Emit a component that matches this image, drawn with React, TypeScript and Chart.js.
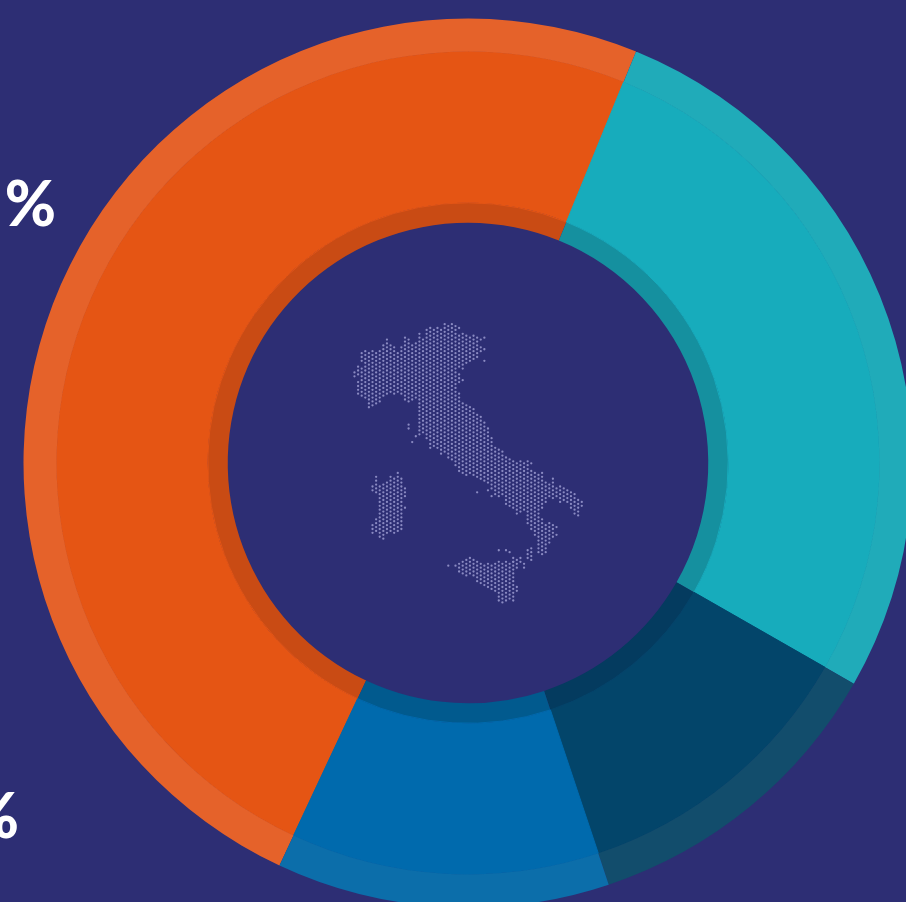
import React, { useEffect, useRef } from "react";
import { Chart, registerables } from "chart.js";

Chart.register(...registerables);

const categories = ["Segment A", "Segment B", "Segment C", "Segment D"];
const shareValues = [49.2, 27.1, 11.6, 12.1];
const orangeToBlueStartDeg = 205.1;

const outerBandColors = ["#e5622a", "#20abb9", "#124d6c", "#0c6eaa"];
const mainBandColors = ["#e55514", "#17acbc", "#03456a", "#006aad"];
const innerBandColors = ["#c94b14", "#15909f", "#043b5f", "#015a8e"];

const labelTop = "5 %";
const labelBottom = "%";

// Dot map of Italy: [column index, first y, last y]
const mainland: number[][] = [
  [0, 370, 375], [1, 367, 373], [1, 382, 393], [2, 352, 360], [2, 367, 397], [3, 350, 398],
  [4, 352, 407], [5, 350, 405], [6, 352, 403], [7, 350, 402], [8, 345, 397], [9, 339, 393],
  [10, 345, 393], [11, 347, 392], [12, 352, 392], [13, 347, 393], [14, 338, 398], [15, 339, 402],
  [16, 345, 400], [17, 342, 397], [18, 333, 432], [19, 337, 433], [20, 330, 438], [21, 328, 442],
  [22, 330, 445], [23, 327, 448], [24, 327, 452], [25, 324, 453], [26, 325, 458], [27, 323, 460],
  [28, 323, 465], [29, 325, 325], [29, 333, 366], [29, 375, 381], [29, 395, 470], [30, 333, 368],
  [30, 381, 381], [30, 402, 472], [31, 335, 361], [31, 405, 474], [32, 336, 360], [32, 406, 475],
  [33, 335, 358], [33, 410, 477], [34, 338, 355], [34, 413, 478], [35, 339, 339], [35, 345, 351],
  [35, 415, 479], [36, 337, 337], [36, 348, 348], [36, 361, 361], [36, 424, 480], [37, 428, 483],
  [38, 438, 490], [39, 447, 493], [40, 450, 497], [41, 452, 495], [42, 457, 503], [43, 460, 507],
  [44, 460, 510], [45, 462, 513], [46, 462, 513], [47, 462, 512], [48, 460, 523], [48, 552, 558],
  [49, 463, 463], [49, 473, 528], [49, 548, 560], [50, 475, 537], [51, 477, 552], [52, 475, 510],
  [52, 520, 555], [53, 483, 503], [53, 525, 552], [54, 483, 497], [54, 523, 543], [55, 480, 497],
  [55, 525, 538], [56, 487, 497], [56, 526, 526], [56, 537, 537], [57, 488, 503], [58, 490, 502],
  [59, 492, 502], [60, 493, 508], [61, 495, 513], [62, 500, 515], [63, 502, 505],
  [44, 558, 561], [45, 560, 568], [46, 558, 563], [47, 563, 567],
];
const sardinia: number[][] = [
  [5, 486, 491], [5, 527, 532], [6, 478, 493], [6, 518, 533], [7, 485, 537], [8, 485, 540],
  [9, 483, 535], [10, 478, 532], [11, 480, 532], [12, 475, 532], [13, 480, 530], [14, 488, 498],
  [14, 507, 507],
];
const sicily: number[][] = [
  [29, 563, 573], [30, 562, 575], [31, 560, 577], [32, 560, 575], [33, 560, 577], [34, 562, 582],
  [35, 563, 585], [36, 565, 587], [37, 563, 590], [38, 565, 592], [39, 565, 593], [40, 563, 600],
  [41, 565, 602], [42, 562, 603], [43, 563, 600], [44, 562, 602], [45, 588, 593],
];
const smallIslands: number[][] = [
  [15, 426, 430], [16, 443, 443], [17, 437, 437], [18, 435, 435], [21, 448, 448], [34, 493, 493],
  [37, 491, 491], [38, 497, 497], [40, 551, 551], [42, 551, 551], [43, 553, 553], [26, 566, 566],
  [28, 566, 566],
];

function dotsFrom(runs: number[][]) {
  const pts: { x: number; y: number }[] = [];
  for (const [col, a, b] of runs) {
    const x = 353.6 + col * 3.64;
    const phase = col % 2 === 1 ? 323 : 324.95;
    const k0 = Math.round((a - phase) / 3.9);
    const k1 = Math.round((b - phase) / 3.9);
    for (let k = k0; k <= k1; k++) pts.push({ x, y: phase + k * 3.9 });
  }
  return pts;
}

export default function App() {
  const ringRef = useRef<HTMLCanvasElement>(null);
  const mapRef = useRef<HTMLCanvasElement>(null);

  useEffect(() => {
    document.body.style.margin = "0";
    document.body.style.background = "#2d2e74";
    const ring = new Chart(ringRef.current!, {
      type: "doughnut",
      data: {
        labels: categories,
        datasets: [
          { data: shareValues, backgroundColor: outerBandColors, borderWidth: 0, weight: 33 },
          { data: shareValues, backgroundColor: mainBandColors, borderColor: mainBandColors, borderWidth: 1, weight: 151 },
          { data: shareValues, backgroundColor: innerBandColors, borderWidth: 0, weight: 20 },
        ],
      },
      options: {
        responsive: false,
        animation: false,
        rotation: orangeToBlueStartDeg,
        cutout: (240 / 444) * 100 + "%",
        layout: { padding: 0.5 },
        plugins: { legend: { display: false }, tooltip: { enabled: false } },
      },
    } as any);
    const map = new Chart(mapRef.current!, {
      type: "scatter",
      data: {
        datasets: [mainland, sardinia, sicily, smallIslands].map((runs) => ({
          data: dotsFrom(runs),
          backgroundColor: "#8a8ac2",
          borderWidth: 0,
          pointRadius: 1.15,
        })),
      },
      options: {
        responsive: false,
        animation: false,
        layout: { padding: 0 },
        scales: {
          x: { type: "linear", min: 0, max: 906, display: false },
          y: { type: "linear", min: 0, max: 902, reverse: true, display: false },
        },
        plugins: { legend: { display: false }, tooltip: { enabled: false } },
      },
    } as any);
    return () => {
      ring.destroy();
      map.destroy();
    };
  }, []);

  const textStyle: React.CSSProperties = {
    position: "absolute",
    color: "#ffffff",
    fontFamily: "Lato",
    fontWeight: 900,
    fontSize: 62,
    lineHeight: "62px",
    whiteSpace: "nowrap",
    wordSpacing: -11,
  };

  return (
    <div style={{ position: "relative", width: 906, height: 902, overflow: "hidden", background: "#2d2e74" }}>
      <canvas ref={ringRef} width={890} height={890} style={{ position: "absolute", left: 23, top: 18 }} />
      <canvas ref={mapRef} width={906} height={902} style={{ position: "absolute", left: 0, top: 0 }} />
      <div style={{ ...textStyle, right: 850, top: 171 }}>{labelTop}</div>
      <div style={{ ...textStyle, right: 887, top: 783 }}>{labelBottom}</div>
    </div>
  );
}
